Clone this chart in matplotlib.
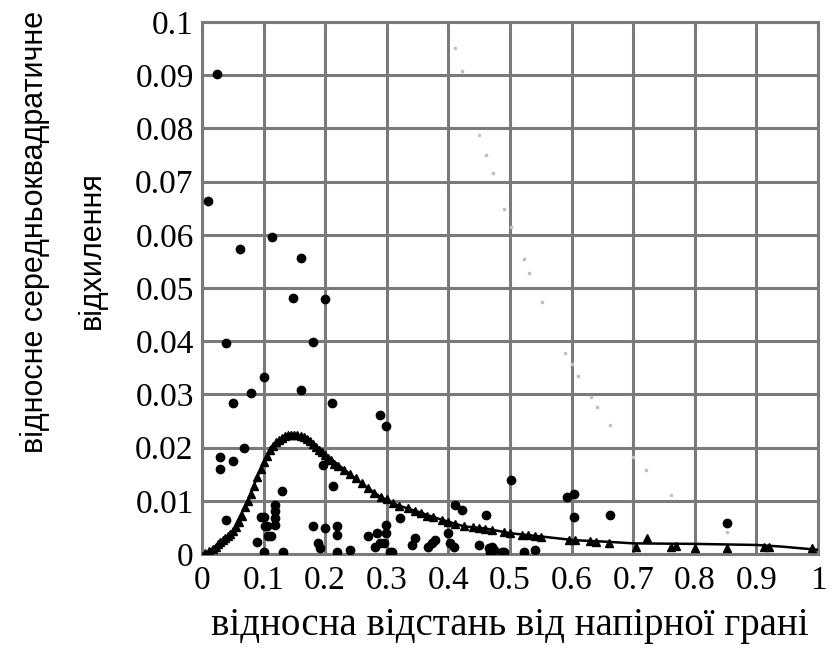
import matplotlib
matplotlib.use("Agg")
import matplotlib.pyplot as plt

# measured points (large dots)
dots_x = [0.010, 0.025, 0.114, 0.061, 0.160, 0.148, 0.200, 0.039, 0.180, 0.100, 0.080,
          0.161, 0.050, 0.211, 0.289, 0.299, 0.069, 0.029, 0.029, 0.050, 0.501, 0.130,
          0.213, 0.197, 0.0385, 0.100, 0.119, 0.119, 0.119, 0.119, 0.105, 0.112, 0.089,
          0.0965, 0.102, 0.107, 0.100, 0.131, 0.180, 0.200, 0.219, 0.219, 0.189, 0.191,
          0.219, 0.241, 0.269, 0.284, 0.289, 0.281, 0.299, 0.299, 0.295, 0.308, 0.321,
          0.346, 0.341, 0.373, 0.367, 0.379, 0.411, 0.422, 0.400, 0.403, 0.409, 0.461,
          0.449, 0.466, 0.474, 0.487, 0.593, 0.604, 0.604, 0.662, 0.471, 0.468, 0.490,
          0.522, 0.541, 0.853, 0.306]
dots_y = [0.0664, 0.0902, 0.0595, 0.0573, 0.0556, 0.0482, 0.0479, 0.0396, 0.0398, 0.0332, 0.0303,
          0.0308, 0.0283, 0.0283, 0.0261, 0.0241, 0.0200, 0.0183, 0.0160, 0.0174, 0.0140, 0.0118,
          0.0127, 0.0167, 0.0064, 0.0069, 0.0092, 0.0080, 0.0067, 0.0055, 0.0052, 0.0033, 0.0023,
          0.0069, 0.0052, 0.0033, 0.0004, 0.0004, 0.0052, 0.0048, 0.0052, 0.0036, 0.0020, 0.0011,
          0.0004, 0.0008, 0.0033, 0.0039, 0.0020, 0.0014, 0.0055, 0.0039, 0.0020, 0.0004, 0.0067,
          0.0031, 0.0017, 0.0020, 0.0014, 0.0026, 0.0092, 0.0083, 0.0039, 0.0020, 0.0014, 0.0073,
          0.0017, 0.0011, 0.0008, 0.0004, 0.0107, 0.0112, 0.0070, 0.0073, 0.0013, 0.0004, 0.0004,
          0.0004, 0.0008, 0.0059, 0.0004]

# triangles along the model curve
tri_x = [0.005, 0.012, 0.018, 0.022, 0.026, 0.030, 0.034, 0.038, 0.042, 0.046, 0.050,
         0.055, 0.060, 0.065, 0.070, 0.075, 0.080, 0.085, 0.090, 0.095, 0.100, 0.105,
         0.110, 0.115, 0.120, 0.125, 0.130, 0.135, 0.140, 0.145, 0.150, 0.155, 0.160,
         0.165, 0.170, 0.175, 0.180, 0.185, 0.190, 0.195, 0.200, 0.205, 0.210, 0.215,
         0.220, 0.230, 0.240, 0.250, 0.260, 0.270, 0.280, 0.290, 0.300, 0.310, 0.320,
         0.335, 0.345, 0.355, 0.365, 0.375, 0.390, 0.400, 0.410, 0.425, 0.440, 0.450,
         0.460, 0.470, 0.490, 0.500, 0.520, 0.530, 0.540, 0.550, 0.595, 0.605, 0.630,
         0.640, 0.660, 0.704, 0.723, 0.761, 0.769, 0.800, 0.853, 0.913, 0.920, 0.991]
tri_y = [0.0002, 0.0006, 0.0010, 0.0014, 0.0018, 0.0022, 0.0026, 0.0031, 0.0034, 0.0038, 0.0043,
         0.0050, 0.0060, 0.0072, 0.0088, 0.0100, 0.0112, 0.0128, 0.0145, 0.0160, 0.0172, 0.0185,
         0.0195, 0.0203, 0.0210, 0.0214, 0.0218, 0.0222, 0.0223, 0.0224, 0.0224, 0.0224, 0.0222,
         0.0219, 0.0216, 0.0212, 0.0207, 0.0202, 0.0196, 0.0191, 0.0186, 0.0181, 0.0176, 0.0170,
         0.0165, 0.0158, 0.0150, 0.0142, 0.0133, 0.0124, 0.0114, 0.0108, 0.0104, 0.0096, 0.0091,
         0.0086, 0.0081, 0.0077, 0.0072, 0.0069, 0.0063, 0.0060, 0.0057, 0.0053, 0.0050, 0.0049,
         0.0047, 0.0046, 0.0041, 0.0039, 0.0036, 0.0035, 0.0034, 0.0032, 0.0027, 0.0026, 0.0024,
         0.0023, 0.0020, 0.0013, 0.0030, 0.0013, 0.0015, 0.0011, 0.0011, 0.0014, 0.0014, 0.0011]

# fitted curve
curve_x = [0.0, 0.01, 0.048, 0.075, 0.0965, 0.113, 0.134, 0.156, 0.178, 0.1995, 0.208,
           0.235, 0.262, 0.289, 0.317, 0.349, 0.382, 0.425, 0.460, 0.501, 0.550, 0.604,
           0.658, 0.700, 0.800, 0.900, 0.940, 0.999]
curve_y = [0.0, 0.0004, 0.0039, 0.0102, 0.0164, 0.0202, 0.0221, 0.0224, 0.0211, 0.0186, 0.0180,
           0.0155, 0.0130, 0.0108, 0.0092, 0.0080, 0.0067, 0.0052, 0.0048, 0.0039, 0.0033, 0.0026,
           0.0023, 0.0020, 0.0019, 0.0017, 0.0014, 0.0008]

# faint dotted series
faint_x = [0.410, 0.422, 0.450, 0.461, 0.472, 0.491, 0.502, 0.522, 0.531, 0.552, 0.590,
           0.601, 0.611, 0.631, 0.641, 0.662, 0.700, 0.721, 0.761, 0.853]
faint_y = [0.0951, 0.0908, 0.0788, 0.0750, 0.0716, 0.0648, 0.0615, 0.0555, 0.0528, 0.0473, 0.0377,
           0.0358, 0.0335, 0.0296, 0.0277, 0.0242, 0.0183, 0.0158, 0.0111, 0.0042]

x_ticks = [0, 0.1, 0.2, 0.3, 0.4, 0.5, 0.6, 0.7, 0.8, 0.9, 1]
x_labels = ["0", "0.1", "0.2", "0.3", "0.4", "0.5", "0.6", "0.7", "0.8", "0.9", "1"]
y_ticks = [0, 0.01, 0.02, 0.03, 0.04, 0.05, 0.06, 0.07, 0.08, 0.09, 0.1]
y_labels = ["0", "0.01", "0.02", "0.03", "0.04", "0.05", "0.06", "0.07", "0.08", "0.09", "0.1"]

grid_col = "#7a7a7a"

fig = plt.figure(figsize=(8.36, 6.54), dpi=100)
ax = fig.add_axes([0.2416, 0.1529, 0.7369, 0.8135])

ax.plot(faint_x, faint_y, linestyle="none", marker="s", markersize=1.5,
        color="#c0c0c0", zorder=2)
ax.plot(curve_x, curve_y, color="black", linewidth=1.8, zorder=3)
ax.plot(tri_x, tri_y, linestyle="none", marker="^", markersize=6, color="black", zorder=4)
ax.plot(dots_x, dots_y, linestyle="none", marker="o", markersize=6, color="black", zorder=4)

ax.set_xlim(0, 1)
ax.set_ylim(0, 0.1)
ax.set_xticks(x_ticks)
ax.set_xticklabels(x_labels)
ax.set_yticks(y_ticks)
ax.set_yticklabels(y_labels)
ax.tick_params(axis="x", length=0, pad=8, labelsize=24)
ax.tick_params(axis="y", length=0, pad=6, labelsize=24)
for lab in ax.get_xticklabels() + ax.get_yticklabels():
    lab.set_family("Liberation Serif")
ax.grid(True, color=grid_col, linewidth=2.2)
ax.set_axisbelow(True)
for s in ax.spines.values():
    s.set_color(grid_col)
    s.set_linewidth(2.2)

ax.set_xlabel("відносна відстань від напірної грані", family="Liberation Serif",
              fontsize=28, labelpad=8)
fig.text(0.042, 0.645, "відносне середньоквадратичне", rotation=90, ha="center",
         va="center", family="Liberation Sans", fontsize=22)
fig.text(0.110, 0.618, "відхилення", rotation=90, ha="center", va="center",
         family="Liberation Sans", fontsize=22)

fig.savefig("out.png", dpi=100)
